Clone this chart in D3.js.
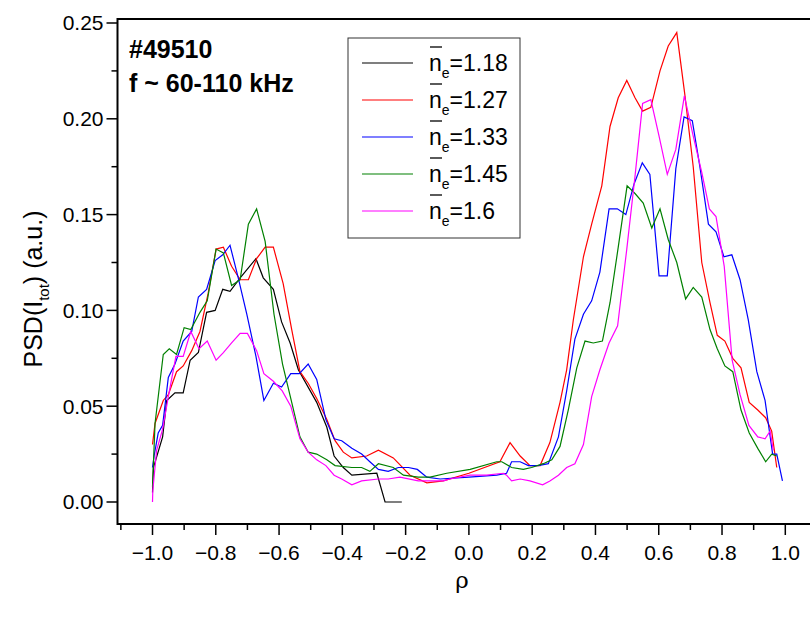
<!DOCTYPE html>
<html>
<head>
<meta charset="utf-8">
<script src="https://cdn.jsdelivr.net/npm/d3@7"></script>
<style>
  body { margin: 0; background: #fff; }
  text { font-family: "Liberation Sans", Arial, sans-serif; }
</style>
</head>
<body>
<div id="chart"></div>
<script>
/**
 * DATA
 * */
const rho118 = [-1.0, -0.997, -0.968, -0.955, -0.929, -0.903, -0.881, -0.855, -0.829, -0.802, -0.778, -0.755, -0.723, -0.673, -0.650, -0.618, -0.592, -0.565, -0.539, -0.481, -0.449, -0.426, -0.397, -0.370, -0.291, -0.265, -0.212];
const psd118 = [0.005, 0.018, 0.034, 0.053, 0.057, 0.057, 0.074, 0.078, 0.099, 0.100, 0.111, 0.110, 0.117, 0.127, 0.117, 0.111, 0.094, 0.083, 0.069, 0.052, 0.039, 0.024, 0.018, 0.014, 0.015, 0.000, 0.000];

const rho127 = [-1.0, -0.992, -0.966, -0.950, -0.924, -0.903, -0.876, -0.850, -0.824, -0.799, -0.776, -0.750, -0.723, -0.697, -0.671, -0.644, -0.618, -0.587, -0.560, -0.534, -0.508, -0.481, -0.449, -0.423, -0.397, -0.370, -0.323, -0.286, -0.239, -0.186, -0.133, -0.081, 0.0, 0.098, 0.130, 0.162, 0.193, 0.225, 0.256, 0.288, 0.309, 0.330, 0.362, 0.388, 0.420, 0.446, 0.472, 0.499, 0.525, 0.549, 0.575, 0.604, 0.630, 0.657, 0.683, 0.709, 0.736, 0.762, 0.785, 0.809, 0.834, 0.860, 0.886, 0.913, 0.938, 0.957, 0.973];
const psd127 = [0.030, 0.041, 0.053, 0.056, 0.068, 0.071, 0.079, 0.089, 0.109, 0.132, 0.133, 0.123, 0.116, 0.116, 0.127, 0.133, 0.133, 0.114, 0.090, 0.068, 0.062, 0.054, 0.043, 0.032, 0.026, 0.023, 0.024, 0.027, 0.023, 0.014, 0.010, 0.011, 0.015, 0.021, 0.031, 0.024, 0.019, 0.019, 0.031, 0.052, 0.069, 0.095, 0.128, 0.145, 0.165, 0.196, 0.211, 0.220, 0.211, 0.204, 0.206, 0.225, 0.238, 0.245, 0.212, 0.175, 0.125, 0.104, 0.087, 0.084, 0.075, 0.070, 0.052, 0.048, 0.044, 0.037, 0.018];

const rho133 = [-1.0, -0.995, -0.982, -0.968, -0.950, -0.929, -0.903, -0.876, -0.855, -0.829, -0.802, -0.778, -0.755, -0.729, -0.702, -0.673, -0.648, -0.618, -0.592, -0.563, -0.536, -0.508, -0.481, -0.452, -0.426, -0.402, -0.370, -0.339, -0.313, -0.286, -0.255, -0.223, -0.191, -0.163, -0.133, -0.091, 0.0, 0.088, 0.119, 0.135, 0.162, 0.188, 0.219, 0.251, 0.283, 0.309, 0.335, 0.362, 0.388, 0.414, 0.443, 0.469, 0.496, 0.522, 0.548, 0.572, 0.601, 0.627, 0.654, 0.680, 0.706, 0.730, 0.757, 0.781, 0.806, 0.831, 0.857, 0.883, 0.910, 0.936, 0.960, 0.973, 0.991];
const psd133 = [0.018, 0.024, 0.036, 0.040, 0.065, 0.072, 0.084, 0.089, 0.107, 0.111, 0.126, 0.129, 0.134, 0.117, 0.098, 0.076, 0.053, 0.062, 0.060, 0.067, 0.067, 0.072, 0.064, 0.043, 0.033, 0.032, 0.028, 0.025, 0.021, 0.017, 0.016, 0.018, 0.018, 0.017, 0.013, 0.012, 0.013, 0.014, 0.015, 0.021, 0.021, 0.019, 0.019, 0.020, 0.034, 0.058, 0.085, 0.098, 0.105, 0.120, 0.153, 0.153, 0.150, 0.166, 0.177, 0.171, 0.118, 0.118, 0.174, 0.201, 0.199, 0.175, 0.145, 0.141, 0.128, 0.129, 0.116, 0.095, 0.068, 0.053, 0.025, 0.025, 0.011];

const rho145 = [-1.0, -0.992, -0.966, -0.947, -0.924, -0.900, -0.879, -0.850, -0.827, -0.799, -0.776, -0.750, -0.723, -0.697, -0.671, -0.644, -0.616, -0.589, -0.560, -0.534, -0.508, -0.481, -0.449, -0.423, -0.370, -0.339, -0.313, -0.286, -0.239, -0.207, -0.160, -0.123, -0.070, 0.004, 0.088, 0.104, 0.135, 0.172, 0.198, 0.235, 0.262, 0.288, 0.314, 0.341, 0.367, 0.393, 0.422, 0.446, 0.472, 0.500, 0.525, 0.551, 0.578, 0.604, 0.630, 0.657, 0.685, 0.709, 0.736, 0.762, 0.785, 0.809, 0.834, 0.860, 0.886, 0.913, 0.938, 0.957, 0.973];
const psd145 = [0.008, 0.041, 0.077, 0.080, 0.077, 0.091, 0.090, 0.099, 0.105, 0.132, 0.130, 0.113, 0.116, 0.145, 0.153, 0.136, 0.098, 0.072, 0.052, 0.034, 0.026, 0.025, 0.022, 0.019, 0.018, 0.018, 0.016, 0.020, 0.018, 0.014, 0.013, 0.013, 0.015, 0.017, 0.021, 0.021, 0.018, 0.017, 0.018, 0.020, 0.022, 0.029, 0.048, 0.070, 0.084, 0.083, 0.084, 0.104, 0.133, 0.165, 0.161, 0.156, 0.143, 0.153, 0.137, 0.125, 0.106, 0.112, 0.107, 0.090, 0.080, 0.071, 0.068, 0.048, 0.036, 0.028, 0.021, 0.025, 0.024];

const rho160 = [-1.0, -0.999, -0.987, -0.968, -0.950, -0.926, -0.903, -0.879, -0.853, -0.827, -0.799, -0.776, -0.750, -0.723, -0.700, -0.671, -0.648, -0.618, -0.590, -0.563, -0.534, -0.508, -0.481, -0.452, -0.426, -0.402, -0.370, -0.339, -0.286, -0.255, -0.218, -0.160, -0.123, -0.081, -0.060, 0.004, 0.056, 0.109, 0.119, 0.135, 0.162, 0.193, 0.233, 0.256, 0.283, 0.309, 0.335, 0.362, 0.388, 0.414, 0.443, 0.470, 0.499, 0.525, 0.549, 0.575, 0.601, 0.627, 0.654, 0.681, 0.709, 0.736, 0.760, 0.781, 0.807, 0.832, 0.857, 0.885, 0.913, 0.936, 0.952, 0.962];
const psd160 = [0.000, 0.006, 0.027, 0.038, 0.055, 0.076, 0.076, 0.089, 0.080, 0.084, 0.074, 0.078, 0.083, 0.088, 0.088, 0.079, 0.067, 0.063, 0.058, 0.050, 0.033, 0.026, 0.022, 0.019, 0.014, 0.012, 0.009, 0.011, 0.012, 0.012, 0.013, 0.011, 0.011, 0.011, 0.012, 0.014, 0.014, 0.015, 0.014, 0.011, 0.012, 0.011, 0.009, 0.011, 0.014, 0.018, 0.020, 0.030, 0.055, 0.069, 0.083, 0.092, 0.132, 0.170, 0.208, 0.210, 0.191, 0.171, 0.184, 0.212, 0.191, 0.172, 0.153, 0.149, 0.123, 0.074, 0.056, 0.040, 0.034, 0.033, 0.037, 0.027];

const seriesNames = ["1.18", "1.27", "1.33", "1.45", "1.6"];
const seriesColors = ["#000000", "#ff0000", "#0000ff", "#008000", "#ff00ff"];
const seriesRho = [rho118, rho127, rho133, rho145, rho160];
const seriesPsd = [psd118, psd127, psd133, psd145, psd160];

const xTicks = [-1.0, -0.8, -0.6, -0.4, -0.2, 0.0, 0.2, 0.4, 0.6, 0.8, 1.0];
const yTicks = [0.00, 0.05, 0.10, 0.15, 0.20, 0.25];

/**
 * LAYOUT
 * */
const width = 810, height = 617;
const plot = { left: 117.5, right: 810, top: 19, bottom: 524 };

const svg = d3.select("#chart").append("svg")
  .attr("width", width)
  .attr("height", height);

// scales: -1 -> 152.5, 1 -> 785.3 ; 0 -> 502, 0.25 -> 23
const x = d3.scaleLinear().domain([-1, 1]).range([152.5, 785.3]);
const y = d3.scaleLinear().domain([0, 0.25]).range([502, 23]);

// lines
const line = d3.line().x(d => x(d[0])).y(d => y(d[1]));
seriesRho.forEach((r, i) => {
  const pts = r.map((v, j) => [v, seriesPsd[i][j]]);
  svg.append("path")
    .attr("d", line(pts))
    .attr("fill", "none")
    .attr("stroke", seriesColors[i])
    .attr("stroke-width", 1.2);
});

// frame: left, bottom, top
svg.append("path")
  .attr("d", `M${plot.right},${plot.top}H${plot.left}V${plot.bottom}H${plot.right}`)
  .attr("fill", "none")
  .attr("stroke", "#000")
  .attr("stroke-width", 2);

// x axis with minor ticks
const xAxis = svg.append("g").attr("transform", `translate(0,${plot.bottom})`);
const xMinor = d3.range(-11, 11).map(k => k / 10).filter(v => Math.abs(v * 5 - Math.round(v * 5)) > 1e-6);
xAxis.selectAll("line.minor").data(xMinor).join("line")
  .attr("x1", d => x(d)).attr("x2", d => x(d))
  .attr("y1", 0).attr("y2", 6)
  .attr("stroke", "#000").attr("stroke-width", 1.5);
xAxis.selectAll("line.major").data(xTicks).join("line")
  .attr("x1", d => x(d)).attr("x2", d => x(d))
  .attr("y1", 0).attr("y2", 11)
  .attr("stroke", "#000").attr("stroke-width", 1.5);
xAxis.selectAll("text").data(xTicks).join("text")
  .attr("x", d => x(d))
  .attr("y", 36)
  .attr("text-anchor", "middle")
  .attr("font-size", 21)
  .text(d3.format(".1f"));

// y axis with minor ticks
const yAxis = svg.append("g").attr("transform", `translate(${plot.left},0)`);
const yMinor = [0.025, 0.075, 0.125, 0.175, 0.225];
yAxis.selectAll("line.minor").data(yMinor).join("line")
  .attr("x1", 0).attr("x2", -6)
  .attr("y1", d => y(d)).attr("y2", d => y(d))
  .attr("stroke", "#000").attr("stroke-width", 1.5);
yAxis.selectAll("line.major").data(yTicks).join("line")
  .attr("x1", 0).attr("x2", -11)
  .attr("y1", d => y(d)).attr("y2", d => y(d))
  .attr("stroke", "#000").attr("stroke-width", 1.5);
yAxis.selectAll("text").data(yTicks).join("text")
  .attr("x", -14)
  .attr("y", d => y(d))
  .attr("dy", "0.35em")
  .attr("text-anchor", "end")
  .attr("font-size", 21)
  .text(d3.format(".2f"));

// axis titles
svg.append("text")
  .attr("x", 462).attr("y", 588)
  .attr("text-anchor", "middle")
  .attr("font-size", 23)
  .style("font-family", "'DejaVu Serif', serif")
  .text("ρ");

const yl = svg.append("text")
  .attr("transform", "translate(42,289) rotate(-90)")
  .attr("text-anchor", "middle")
  .attr("font-size", 25);
yl.append("tspan").text("PSD(I");
yl.append("tspan").attr("font-size", 15).attr("dy", 7).text("tot");
yl.append("tspan").attr("dy", -7).text(") (a.u.)");

// annotation
svg.append("text").attr("x", 129).attr("y", 58)
  .attr("font-size", 25).attr("font-weight", "bold").text("#49510");
svg.append("text").attr("x", 129).attr("y", 92)
  .attr("font-size", 25).attr("font-weight", "bold").text("f ~ 60-110 kHz");

// legend
const lg = svg.append("g");
lg.append("rect")
  .attr("x", 348).attr("y", 38)
  .attr("width", 172).attr("height", 200)
  .attr("fill", "#fff").attr("stroke", "#333").attr("stroke-width", 1);
seriesNames.forEach((name, i) => {
  const ly = 63 + i * 37;
  lg.append("line")
    .attr("x1", 362).attr("x2", 413)
    .attr("y1", ly).attr("y2", ly)
    .attr("stroke", seriesColors[i]).attr("stroke-width", 1.2);
  // n with overbar and subscript e
  lg.append("line")
    .attr("x1", 430).attr("x2", 442)
    .attr("y1", ly - 16).attr("y2", ly - 16)
    .attr("stroke", "#000").attr("stroke-width", 1.3);
  const t = lg.append("text")
    .attr("x", 429).attr("y", ly + 8)
    .attr("font-size", 23);
  t.append("tspan").text("n");
  t.append("tspan").attr("font-size", 14).attr("dy", 7).text("e");
  t.append("tspan").attr("dy", -7).text("=" + name);
});
</script>
</body>
</html>
